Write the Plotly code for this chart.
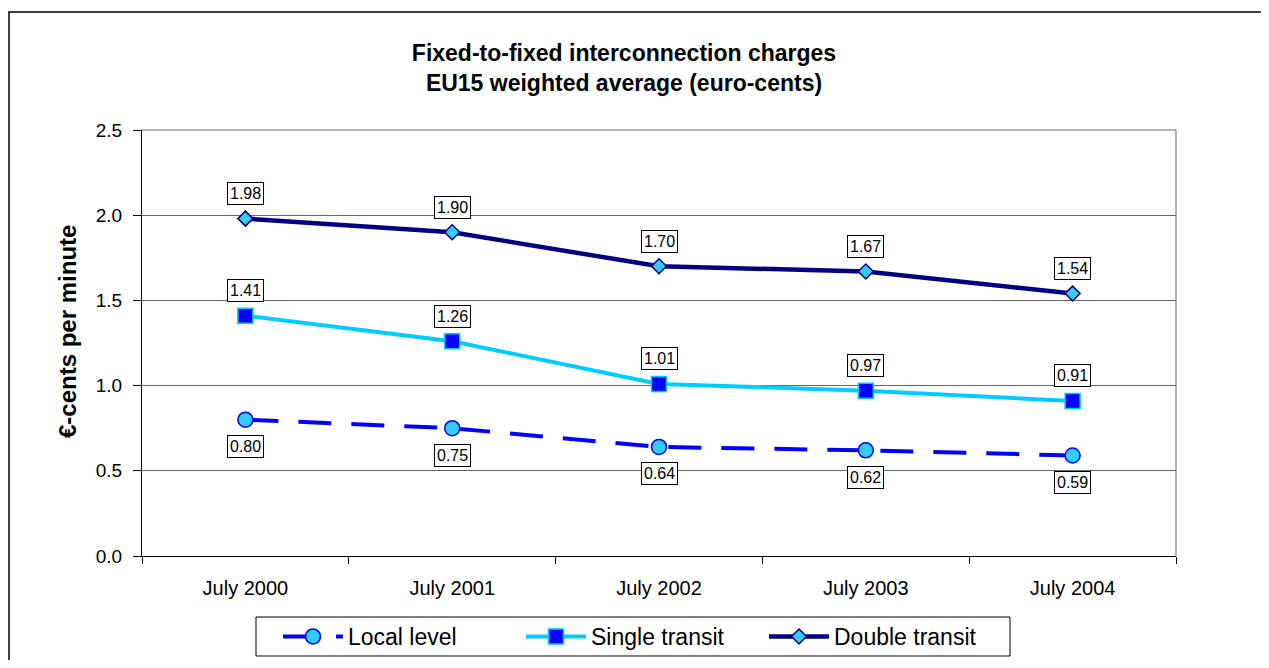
import plotly.graph_objects as go

categories = ["July 2000", "July 2001", "July 2002", "July 2003", "July 2004"]
local_level = [0.80, 0.75, 0.64, 0.62, 0.59]
single_transit = [1.41, 1.26, 1.01, 0.97, 0.91]
double_transit = [1.98, 1.90, 1.70, 1.67, 1.54]

title_lines = ["Fixed-to-fixed interconnection charges", "EU15 weighted average (euro-cents)"]
y_title = "€-cents per minute"
y_ticks = [0.0, 0.5, 1.0, 1.5, 2.0, 2.5]

FONT = "Liberation Sans, Arial, sans-serif"

fig = go.Figure()

fig.add_trace(go.Scatter(
    x=categories, y=local_level, name="Local level", mode="lines+markers",
    line=dict(color="#0000FF", width=4, dash="33px,20px"),
    marker=dict(symbol="circle", size=15, color="#33CCFF", line=dict(color="#0000FF", width=1.5)),
))
fig.add_trace(go.Scatter(
    x=categories, y=single_transit, name="Single transit", mode="lines+markers",
    line=dict(color="#00CCFF", width=4),
    marker=dict(symbol="square", size=15, color="#0000FF", line=dict(color="#00CCFF", width=1.5)),
))
fig.add_trace(go.Scatter(
    x=categories, y=double_transit, name="Double transit", mode="lines+markers",
    line=dict(color="#000080", width=4.5),
    marker=dict(symbol="diamond", size=11.5, color="#33CCFF", line=dict(color="#000080", width=1.5)),
))

annotations = []
for series, shift in ((double_transit, 25), (single_transit, 25), (local_level, -27)):
    for c, v in zip(categories, series):
        annotations.append(dict(
            x=c, y=v, xref="x", yref="y", text=f"{v:.2f}", showarrow=False,
            yshift=shift, font=dict(family=FONT, size=16, color="black"),
            bgcolor="white", bordercolor="black", borderwidth=1, borderpad=2,
        ))

# page is offset by the 8px body margin; figure sized to avoid scrollbars
OFF = 8
W, H = 1269 - 2 * OFF, 668 - 2 * OFF
L, T = 142 - OFF, 130 - OFF
R = W - (1176 - OFF)
B = H - (556 - OFF)
pw, ph = W - L - R, H - T - B

def px_x(p):
    return (p - OFF - L) / pw

def px_y(p):
    return (H - B - (p - OFF)) / ph

# y-axis title as rotated text
annotations.append(dict(
    x=px_x(67), y=px_y(332), xref="paper", yref="paper", text=y_title, textangle=-90,
    showarrow=False, xanchor="center", yanchor="middle",
    font=dict(family=FONT, size=24, color="black", weight="bold"),
))

shapes = [
    # outer chart frame (extends beyond visible page on right/bottom)
    dict(type="rect", xref="paper", yref="paper",
         x0=px_x(9), x1=px_x(1300), y0=px_y(700), y1=px_y(12),
         line=dict(color="black", width=1.5), layer="below"),
    # plot area right and top border
    dict(type="line", xref="paper", yref="paper", x0=1, x1=1, y0=0, y1=1,
         line=dict(color="#666666", width=1)),
    dict(type="line", xref="paper", yref="paper", x0=0, x1=1, y0=1, y1=1,
         line=dict(color="#666666", width=1)),
    # legend frame
    dict(type="rect", xref="paper", yref="paper",
         x0=px_x(256), x1=px_x(1010), y0=px_y(656), y1=px_y(617),
         line=dict(color="black", width=1), fillcolor="white", layer="below"),
]

fig.update_layout(
    width=W, height=H,
    margin=dict(l=L, r=R, t=T, b=B, autoexpand=False),
    paper_bgcolor="white", plot_bgcolor="white",
    font=dict(family=FONT, color="black"),
    title=dict(text="<br>".join(title_lines), x=(624 - OFF) / W, xref="container", xanchor="center",
               y=1 - 53 / H, yanchor="top",
               font=dict(family=FONT, size=23, color="black", weight="bold")),
    xaxis=dict(type="category", range=[-0.5, 4.5], tickson="boundaries", ticks="outside",
               ticklen=7, tickcolor="black", showline=True, linecolor="black", linewidth=1,
               showgrid=False, tickfont=dict(size=20, family=FONT), ticklabelstandoff=14,
               automargin=False, fixedrange=True),
    yaxis=dict(range=[0, 2.5], tickvals=y_ticks, ticktext=[f"{v:.1f}" for v in y_ticks],
               ticks="outside", ticklen=8, tickcolor="black", showline=True, linecolor="black",
               linewidth=1, showgrid=True, gridcolor="#666666", gridwidth=1, zeroline=False,
               tickfont=dict(size=19, family=FONT), ticklabelstandoff=7, automargin=False),
    legend=dict(orientation="h", x=px_x(278), xanchor="left", y=px_y(636.5), yanchor="middle",
                borderwidth=0, bgcolor="rgba(0,0,0,0)",
                font=dict(size=23, family=FONT), itemwidth=60, entrywidth=168,
                entrywidthmode="pixels", tracegroupgap=0),
    annotations=annotations,
    shapes=shapes,
    showlegend=True,
)

fig.write_html("out.html")
